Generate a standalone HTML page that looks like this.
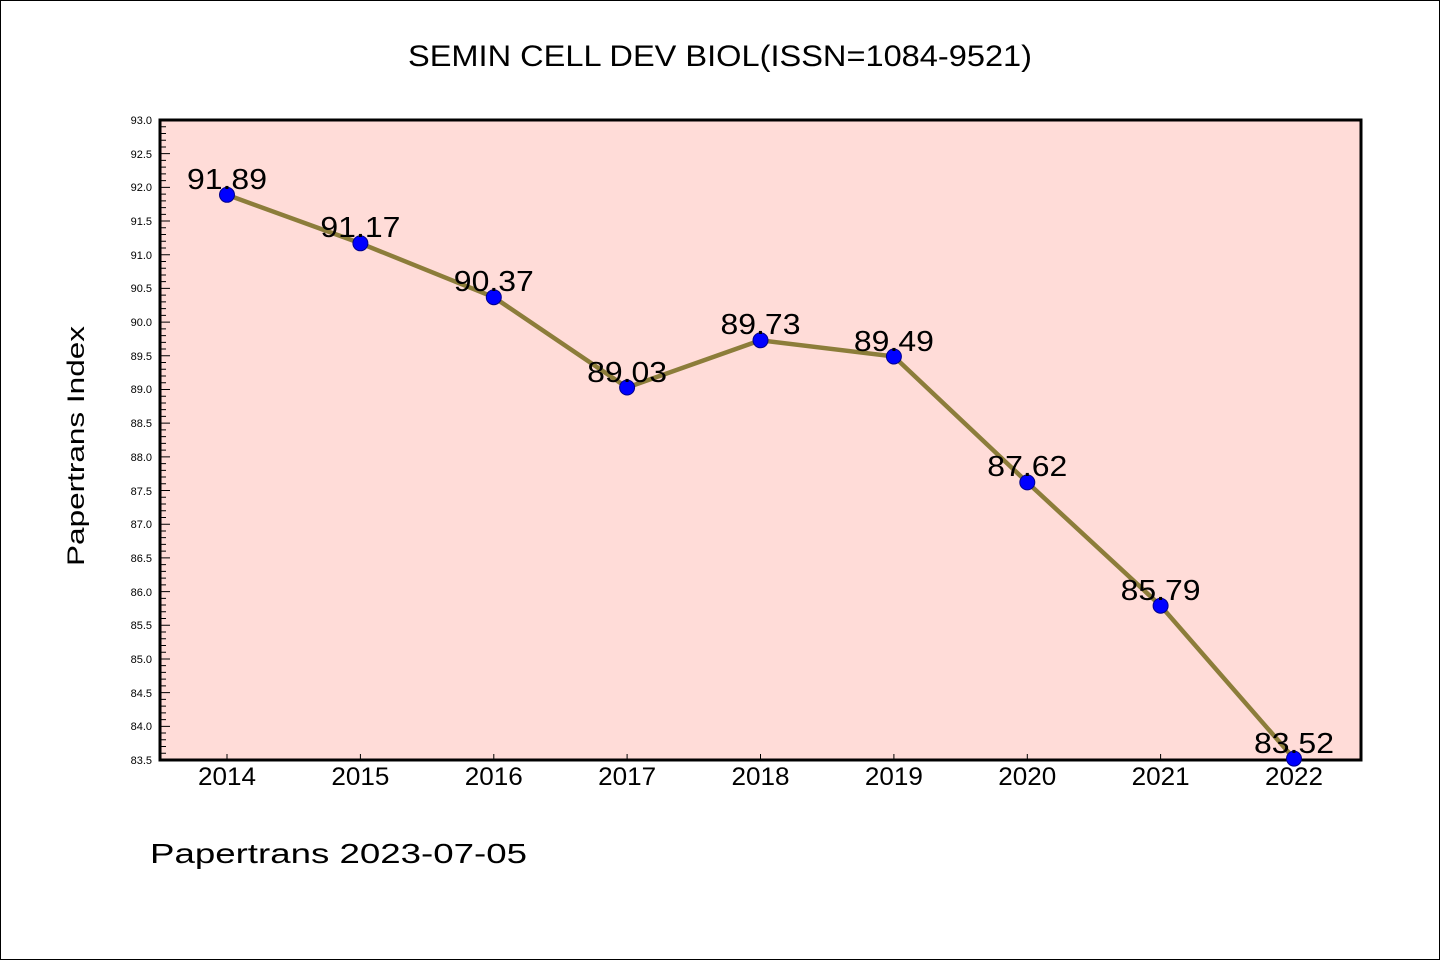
<!DOCTYPE html>
<html><head><meta charset="utf-8"><style>
html,body{margin:0;padding:0;background:#fff}
svg{display:block}
text{font-family:"WenQuanYi Zen Hei Mono","WenQuanYi Zen Hei","Liberation Sans","Noto Sans CJK SC",sans-serif;fill:#000}
</style></head><body>
<svg id="s" width="1440" height="960" xmlns="http://www.w3.org/2000/svg">
<rect x="0.5" y="0.5" width="1439" height="959" fill="#fff" stroke="#000" stroke-width="1"/>
<text x="720" y="66" font-size="30" text-anchor="middle" textLength="624" lengthAdjust="spacingAndGlyphs">SEMIN CELL DEV BIOL(ISSN=1084-9521)</text>
<rect x="160" y="120" width="1201" height="640" fill="#ffdcd8"/>
<g id="ticks" stroke="#000" stroke-width="1"></g>
<rect x="160" y="120" width="1201" height="640" fill="none" stroke="#000" stroke-width="3"/>
<g font-size="11" text-anchor="end">
<text x="152" y="124">93.0</text>
<text x="152" y="158">92.5</text>
<text x="152" y="191">92.0</text>
<text x="152" y="225">91.5</text>
<text x="152" y="259">91.0</text>
<text x="152" y="292">90.5</text>
<text x="152" y="326">90.0</text>
<text x="152" y="360">89.5</text>
<text x="152" y="393">89.0</text>
<text x="152" y="427">88.5</text>
<text x="152" y="461">88.0</text>
<text x="152" y="495">87.5</text>
<text x="152" y="528">87.0</text>
<text x="152" y="562">86.5</text>
<text x="152" y="596">86.0</text>
<text x="152" y="629">85.5</text>
<text x="152" y="663">85.0</text>
<text x="152" y="697">84.5</text>
<text x="152" y="730">84.0</text>
<text x="152" y="764">83.5</text>
</g>
<g font-size="25" text-anchor="middle">
<text x="227" y="785" textLength="58" lengthAdjust="spacingAndGlyphs">2014</text>
<text x="360.4" y="785" textLength="58" lengthAdjust="spacingAndGlyphs">2015</text>
<text x="493.8" y="785" textLength="58" lengthAdjust="spacingAndGlyphs">2016</text>
<text x="627.1" y="785" textLength="58" lengthAdjust="spacingAndGlyphs">2017</text>
<text x="760.5" y="785" textLength="58" lengthAdjust="spacingAndGlyphs">2018</text>
<text x="893.9" y="785" textLength="58" lengthAdjust="spacingAndGlyphs">2019</text>
<text x="1027.3" y="785" textLength="58" lengthAdjust="spacingAndGlyphs">2020</text>
<text x="1160.6" y="785" textLength="58" lengthAdjust="spacingAndGlyphs">2021</text>
<text x="1294" y="785" textLength="58" lengthAdjust="spacingAndGlyphs">2022</text>
</g>
<text transform="translate(84,446) rotate(-90)" font-size="24" text-anchor="middle" textLength="240" lengthAdjust="spacingAndGlyphs">Papertrans Index</text>
<text x="150" y="863" font-size="28" textLength="377" lengthAdjust="spacingAndGlyphs">Papertrans 2023-07-05</text>
<polyline fill="none" stroke="#8c7d3a" stroke-width="4.5" stroke-linejoin="round" points="227,194.8 360.4,243.3 493.8,297.2 627.1,387.5 760.5,340.3 893.9,356.5 1027.3,482.4 1160.6,605.7 1294,758.6"/>
<g fill="#0000ff" stroke="#00008b" stroke-width="1">
<circle cx="227" cy="194.8" r="7.5"/>
<circle cx="360.4" cy="243.3" r="7.5"/>
<circle cx="493.8" cy="297.2" r="7.5"/>
<circle cx="627.1" cy="387.5" r="7.5"/>
<circle cx="760.5" cy="340.3" r="7.5"/>
<circle cx="893.9" cy="356.5" r="7.5"/>
<circle cx="1027.3" cy="482.4" r="7.5"/>
<circle cx="1160.6" cy="605.7" r="7.5"/>
<circle cx="1294" cy="758.6" r="7.5"/>
</g>
<g font-size="29" text-anchor="middle">
<text x="227" y="189" textLength="80" lengthAdjust="spacingAndGlyphs">91.89</text>
<text x="360.4" y="237" textLength="80" lengthAdjust="spacingAndGlyphs">91.17</text>
<text x="493.8" y="291" textLength="80" lengthAdjust="spacingAndGlyphs">90.37</text>
<text x="627.1" y="382" textLength="80" lengthAdjust="spacingAndGlyphs">89.03</text>
<text x="760.5" y="334" textLength="80" lengthAdjust="spacingAndGlyphs">89.73</text>
<text x="893.9" y="351" textLength="80" lengthAdjust="spacingAndGlyphs">89.49</text>
<text x="1027.3" y="476" textLength="80" lengthAdjust="spacingAndGlyphs">87.62</text>
<text x="1160.6" y="600" textLength="80" lengthAdjust="spacingAndGlyphs">85.79</text>
<text x="1294" y="753" textLength="80" lengthAdjust="spacingAndGlyphs">83.52</text>
</g>
</svg>
<script>
var g=document.getElementById('ticks'),d='';
for(var i=0;i<=95;i++){var y=120+i*640/95;var L=(i%5==0)?10:6;d+='M160 '+y.toFixed(2)+'h'+L;}
for(var k=0;k<9;k++){var x=227+k*133.375;d+='M'+x.toFixed(1)+' 760v-6';}
var p=document.createElementNS('http://www.w3.org/2000/svg','path');p.setAttribute('d',d);g.appendChild(p);
</script>
</body></html>
